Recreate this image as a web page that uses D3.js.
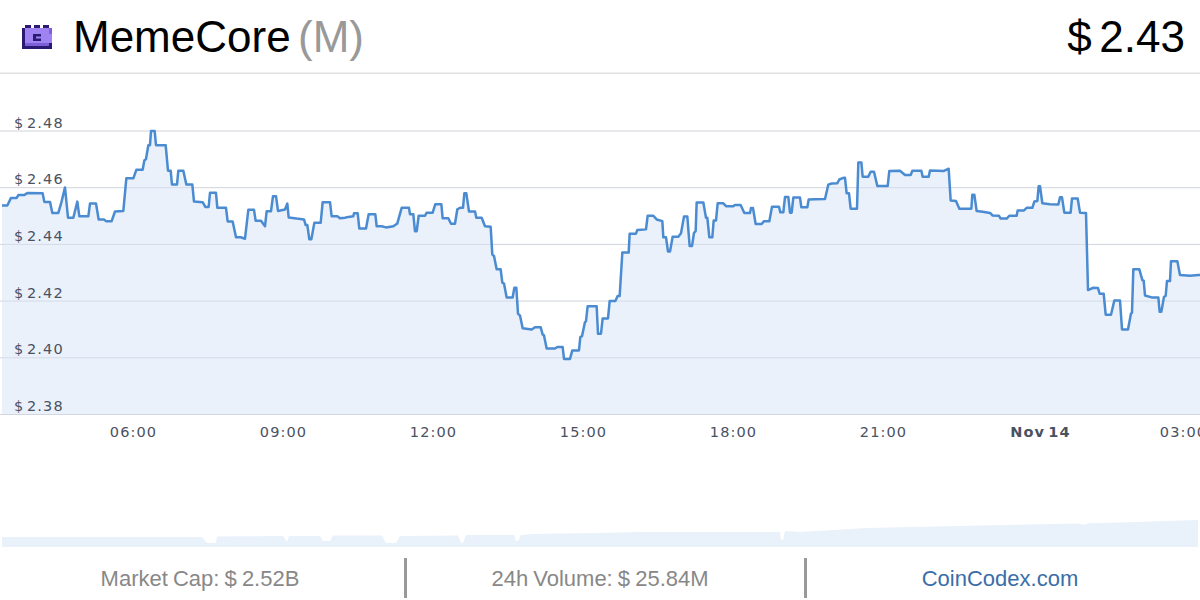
<!DOCTYPE html>
<html>
<head>
<meta charset="utf-8">
<title>MemeCore</title>
<script src="https://cdn.jsdelivr.net/npm/d3@7"></script>
<style>
  html, body { margin: 0; padding: 0; background: #fff; overflow: hidden; }
  svg { display: block; font-family: "Liberation Sans", Arial, sans-serif; }
  .axis text { font-family: "DejaVu Sans", Verdana, sans-serif; font-size: 14.5px; letter-spacing: 1.1px; word-spacing: -3px; fill: #4a5262; }
  .axis .domain { display: none; }
</style>
</head>
<body>
<script>
// minutes since 00:00 Nov 13
var times = [
  202.8, 209.2, 213.6, 220.4, 222.4, 229.2, 233.2, 251.6, 253.6, 260.4,
  263.2, 270.4, 274.4, 278.4, 282, 288.4, 293.2, 295.6, 306.4, 308.4,
  315.6, 318.8, 325.2, 327.6, 334.4, 338.4, 348.4, 352, 360.4, 364,
  371.6, 373.6, 375.6, 378.4, 380.4, 381.6, 386, 387.6, 399.2, 402,
  405.2, 406.8, 412.8, 414.4, 420.4, 424, 431.2, 433.2, 443.6, 446.8,
  450.8, 452.4, 459.6, 461.2, 471.6, 473.6, 479.6, 483.6, 489.2, 494.4,
  498.4, 505.2, 507.2, 513.6, 518.4, 520.4, 525.6, 528, 531.6, 534,
  542.4, 545.2, 546.8, 556.4, 565.2, 567.2, 569.2, 571.6, 574, 577.6,
  585.2, 587.6, 596.4, 598.4, 605.2, 608.4, 614.4, 618.4, 624.4, 625.2,
  629.6, 631.6, 639.6, 642.8, 650.8, 652.4, 658.4, 663.6, 672.4, 677.2,
  682.4, 691.2, 692.4, 696.4, 698.4, 700.4, 702.8, 710.4, 712.4, 719.6,
  722.8, 730, 731.6, 738.4, 741.6, 746.4, 749.2, 752.4, 756, 757.6,
  760, 763.2, 770.4, 772, 778.4, 782.4, 789.2, 791.2, 793.2, 796.4,
  801.2, 803.2, 805.2, 808.4, 815.6, 817.6, 820, 822, 824.4, 827.6,
  838.4, 842.4, 849.2, 851.6, 853.2, 856.4, 866.4, 869.2, 875.6, 877.2,
  884.4, 887.2, 895.2, 896.8, 898.8, 902.4, 903.6, 905.6, 916.4, 918,
  921.6, 923.6, 930, 932, 938.8, 941.6, 944, 947.2, 954.8, 956,
  963.6, 965.2, 975.6, 977.6, 984.4, 988.4, 995.2, 996.4, 999.6, 1002,
  1004.4, 1007.6, 1014.4, 1017.6, 1021.2, 1025.2, 1028, 1030.8, 1033.2, 1035.2,
  1036.4, 1044.4, 1047.6, 1049.2, 1051.6, 1055.2, 1056.8, 1059.6, 1061.6, 1068.4,
  1071.6, 1080.4, 1082.4, 1089.2, 1093.6, 1100.4, 1101.6, 1104, 1107.2, 1114.4,
  1117.2, 1123.6, 1126.8, 1135.2, 1136.8, 1140.4, 1142.4, 1146.4, 1148.4, 1150.4,
  1152.4, 1160.4, 1162, 1169.2, 1170.8, 1178.4, 1190.4, 1194.4, 1198.4, 1205.2,
  1207.6, 1211.6, 1214.4, 1216.4, 1219.2, 1221.2, 1228.8, 1230.4, 1234, 1235.6,
  1242.4, 1245.2, 1249.2, 1253.2, 1265.6, 1267.6, 1280.4, 1286.4, 1293.2, 1295.2,
  1306, 1307.6, 1314.8, 1316.4, 1333.2, 1338.8, 1341.2, 1347.6, 1351.6, 1366,
  1367.2, 1369.6, 1372.4, 1379.6, 1388.4, 1391.6, 1399.2, 1401.2, 1408.4, 1411.6,
  1420.4, 1421.6, 1429.2, 1432.4, 1439.2, 1441.6, 1445.2, 1446.8, 1448.4, 1451.2,
  1460.4, 1470.4, 1472.4, 1474.8, 1477.6, 1485.2, 1486.8, 1493.6, 1496.4, 1503.6,
  1506, 1512.4, 1518, 1520, 1524.8, 1527.2, 1533.6, 1537.6, 1544.4, 1546.8,
  1554, 1557.6, 1558.8, 1560.4, 1567.6, 1571.2, 1572.8, 1574.4, 1582.4, 1590.4,
  1592, 1594, 1597.2, 1599.2, 1600.8, 1604.4, 1605.6, 1613.2, 1616.4, 1628.4,
  1638.4, 1640.4
];
var prices = [
  2.4537, 2.4537, 2.4564, 2.4564, 2.4574, 2.4574, 2.4581, 2.4580, 2.4550, 2.4550,
  2.4511, 2.4511, 2.4552, 2.4601, 2.4494, 2.4494, 2.4551, 2.4499, 2.4499, 2.4544,
  2.4544, 2.4488, 2.4488, 2.4482, 2.4482, 2.4516, 2.4518, 2.4633, 2.4633, 2.4663,
  2.4663, 2.4696, 2.4701, 2.4750, 2.4750, 2.4800, 2.4800, 2.4750, 2.4750, 2.4660,
  2.4660, 2.4611, 2.4611, 2.4660, 2.4660, 2.4611, 2.4611, 2.4551, 2.4549, 2.4532,
  2.4532, 2.4582, 2.4582, 2.4529, 2.4529, 2.4481, 2.4481, 2.4425, 2.4425, 2.4420,
  2.4522, 2.4522, 2.4483, 2.4483, 2.4464, 2.4517, 2.4517, 2.4570, 2.4570, 2.4518,
  2.4523, 2.4544, 2.4495, 2.4491, 2.4488, 2.4468, 2.4468, 2.4418, 2.4418, 2.4476,
  2.4476, 2.4549, 2.4549, 2.4499, 2.4499, 2.4492, 2.4494, 2.4497, 2.4499, 2.4510,
  2.4510, 2.4456, 2.4456, 2.4506, 2.4506, 2.4464, 2.4464, 2.4460, 2.4464, 2.4474,
  2.4529, 2.4529, 2.4506, 2.4506, 2.4446, 2.4446, 2.4501, 2.4501, 2.4512, 2.4512,
  2.4542, 2.4542, 2.4492, 2.4492, 2.4473, 2.4473, 2.4524, 2.4529, 2.4529, 2.4580,
  2.4580, 2.4516, 2.4516, 2.4494, 2.4494, 2.4464, 2.4462, 2.4364, 2.4359, 2.4312,
  2.4312, 2.4265, 2.4262, 2.4213, 2.4213, 2.4247, 2.4247, 2.4156, 2.4149, 2.4104,
  2.4100, 2.4108, 2.4108, 2.4082, 2.4079, 2.4033, 2.4033, 2.4038, 2.4038, 2.3996,
  2.3996, 2.4026, 2.4026, 2.4074, 2.4076, 2.4126, 2.4129, 2.4182, 2.4182, 2.4085,
  2.4085, 2.4139, 2.4139, 2.4200, 2.4200, 2.4218, 2.4218, 2.4371, 2.4371, 2.4438,
  2.4438, 2.4451, 2.4453, 2.4501, 2.4501, 2.4488, 2.4482, 2.4425, 2.4425, 2.4375,
  2.4375, 2.4427, 2.4427, 2.4439, 2.4498, 2.4498, 2.4394, 2.4394, 2.4441, 2.4447,
  2.4548, 2.4548, 2.4494, 2.4494, 2.4425, 2.4425, 2.4484, 2.4484, 2.4545, 2.4545,
  2.4535, 2.4535, 2.4539, 2.4539, 2.4511, 2.4511, 2.4528, 2.4528, 2.4472, 2.4472,
  2.4482, 2.4482, 2.4533, 2.4533, 2.4513, 2.4513, 2.4567, 2.4567, 2.4512, 2.4512,
  2.4565, 2.4565, 2.4531, 2.4531, 2.4558, 2.4559, 2.4560, 2.4611, 2.4615, 2.4616,
  2.4629, 2.4634, 2.4635, 2.4580, 2.4580, 2.4526, 2.4526, 2.4689, 2.4689, 2.4639,
  2.4639, 2.4656, 2.4656, 2.4606, 2.4606, 2.4659, 2.4660, 2.4645, 2.4645, 2.4660,
  2.4660, 2.4639, 2.4639, 2.4661, 2.4659, 2.4667, 2.4555, 2.4553, 2.4526, 2.4526,
  2.4575, 2.4575, 2.4518, 2.4515, 2.4511, 2.4502, 2.4501, 2.4491, 2.4491, 2.4501,
  2.4501, 2.4520, 2.4520, 2.4529, 2.4529, 2.4551, 2.4553, 2.4605, 2.4605, 2.4545,
  2.4542, 2.4541, 2.4566, 2.4566, 2.4512, 2.4512, 2.4562, 2.4562, 2.4512, 2.4511,
  2.4239, 2.4247, 2.4246, 2.4226, 2.4226, 2.4152, 2.4152, 2.4202, 2.4202, 2.4100,
  2.4100, 2.4156, 2.4159, 2.4312, 2.4312, 2.4274, 2.4272, 2.4220, 2.4213, 2.4213,
  2.4162, 2.4162, 2.4215, 2.4218, 2.4271, 2.4271, 2.4341, 2.4341, 2.4292, 2.4289,
  2.4292, 2.4292
];

var priceTicks = [2.38, 2.40, 2.42, 2.44, 2.46, 2.48];
var timeTicks = [360, 540, 720, 900, 1080, 1260, 1440, 1620];
var timeLabels = ["06:00", "09:00", "12:00", "15:00", "18:00", "21:00", "Nov 14", "03:00"];

// long range series in the navigator strip, days since start
var navDays = [
  0, 50, 51.25, 53.5, 53.75, 70.25, 71.25, 71.75, 79.5, 80.25,
  82, 82.75, 95, 96, 98.5, 99.5, 114, 114.75, 115.25, 116,
  128, 128.5, 129, 129.75, 132.75, 149.5, 159.5, 194.5, 194.75, 195.25,
  195.75, 199.5, 216.25, 269.5, 270.25, 271.5, 299
];
var navPrices = [
  0.90, 0.90, 0.36, 0.36, 0.945, 0.99, 0.45, 0.99, 0.99, 0.54,
  0.54, 1.035, 1.035, 0.36, 0.36, 0.99, 1.035, 0.36, 0.36, 1.08,
  1.08, 0.54, 0.54, 1.08, 1.17, 1.26, 1.35, 1.35, 0.63, 0.63,
  1.44, 1.35, 1.71, 2.115, 1.98, 2.115, 2.43
];

var iconRows = [
  ".dd.dd.dd.",
  "dllllllllp",
  "dllllllllp",
  "dlllllllllp",
  "dlllllllllp",
  "dlllllllllp",
  "dppppppppd",
  "dddddddddd"
];
var iconColors = { d: "#2b1a72", p: "#7d5fd8", l: "#a083f2" };

var canvas = d3.select("body")
    .append("svg")
    .attr("width", 1200).attr("height", 600);

var x = d3.scaleLinear().domain([360, 1620]).range([133, 1183]);
var y = d3.scaleLinear().domain([2.38, 2.48]).range([414.5, 131]);
var navX = d3.scaleLinear().domain([0, 299]).range([2, 1198]);
var navY = d3.scaleLinear().domain([0, 2.43]).range([547, 520]);

var points = times.map(function (t, i) { return [t, prices[i]]; });

// header
canvas.append("text")
    .attr("x", 73).attr("y", 52)
    .attr("font-size", 44)
    .attr("fill", "#000")
    .text("MemeCore");
canvas.append("text")
    .attr("x", 298).attr("y", 52)
    .attr("font-size", 44)
    .attr("fill", "#999")
    .text("(M)");
canvas.append("text")
    .attr("x", 1185).attr("y", 52)
    .attr("font-size", 44)
    .attr("word-spacing", -4.5)
    .attr("text-anchor", "end")
    .attr("fill", "#000")
    .text("$ 2.43");
canvas.append("rect")
    .attr("x", 0).attr("y", 72.5)
    .attr("width", 1200).attr("height", 1.5)
    .attr("fill", "#e2e2e2");

iconRows.forEach(function (row, r) {
    row.slice(0, 10).split("").forEach(function (c, k) {
        if (c === ".") return;
        canvas.append("rect")
            .attr("x", 22 + k * 3).attr("y", 25 + r * 3)
            .attr("width", 3).attr("height", 3)
            .attr("fill", iconColors[c]);
    });
});
// small c in the middle of the icon
canvas.append("path")
    .attr("d", "M33 34h8v2.5h-5v2h5v2.5h-8z")
    .attr("fill", iconColors.d);

// grid under the area
canvas.selectAll("line.grid")
    .data(priceTicks)
    .enter()
    .append("line")
    .attr("class", "grid")
    .attr("x1", 0).attr("x2", 1200)
    .attr("y1", function (d) { return y(d); })
    .attr("y2", function (d) { return y(d); })
    .attr("stroke", "#cfd3da");

// area and line
canvas.append("path")
    .attr("d", d3.area()
        .x(function (d) { return x(d[0]); })
        .y0(y(2.38))
        .y1(function (d) { return y(d[1]); })(points))
    .attr("fill", "#d6e4f7")
    .attr("fill-opacity", 0.5);

canvas.append("path")
    .attr("d", d3.line()
        .x(function (d) { return x(d[0]); })
        .y(function (d) { return y(d[1]); })(points))
    .attr("fill", "none")
    .attr("stroke", "#4a8bd1")
    .attr("stroke-width", 2.5)
    .attr("stroke-linejoin", "round");

// price labels
var yAxis = canvas.append("g")
    .attr("class", "axis")
    .call(d3.axisRight(y).tickValues(priceTicks).tickSize(0)
        .tickFormat(function (d) { return "$ " + d.toFixed(2); }));
yAxis.selectAll("text")
    .attr("x", 14)
    .attr("dy", 0)
    .attr("y", -4)
    .attr("text-anchor", "start");

// time axis
var xAxis = canvas.append("g")
    .attr("class", "axis")
    .attr("transform", "translate(0," + y(2.38) + ")")
    .call(d3.axisBottom(x).tickValues(timeTicks).tickSize(0).tickPadding(12)
        .tickFormat(function (d, i) { return timeLabels[i]; }));
xAxis.selectAll("text")
    .attr("dx", function (d) { return d === 1440 ? 7 : 0; })
    .attr("font-weight", function (d) { return d === 1440 ? "bold" : null; });

// navigator strip
canvas.append("path")
    .attr("d", d3.area()
        .x(function (d) { return navX(d[0]); })
        .y0(navY(0))
        .y1(function (d) { return navY(d[1]); })(navDays.map(function (d, i) { return [d, navPrices[i]]; })))
    .attr("fill", "#e9f1fb");

// footer
canvas.selectAll("rect.divider")
    .data([405.5, 805.5])
    .enter()
    .append("rect")
    .attr("class", "divider")
    .attr("x", function (d) { return d - 1.5; })
    .attr("y", 558)
    .attr("width", 3).attr("height", 40)
    .attr("fill", "#999");

var footer = [
    ["Market Cap: $ 2.52B", 200, "#888"],
    ["24h Volume: $ 25.84M", 600, "#888"],
    ["CoinCodex.com", 1000, "#3a6ea8"]
];
canvas.selectAll("text.foot")
    .data(footer)
    .enter()
    .append("text")
    .attr("class", "foot")
    .attr("x", function (d) { return d[1]; })
    .attr("y", 586)
    .attr("font-size", 22)
    .attr("word-spacing", -1)
    .attr("text-anchor", "middle")
    .attr("fill", function (d) { return d[2]; })
    .text(function (d) { return d[0]; });
</script>
</body>
</html>
